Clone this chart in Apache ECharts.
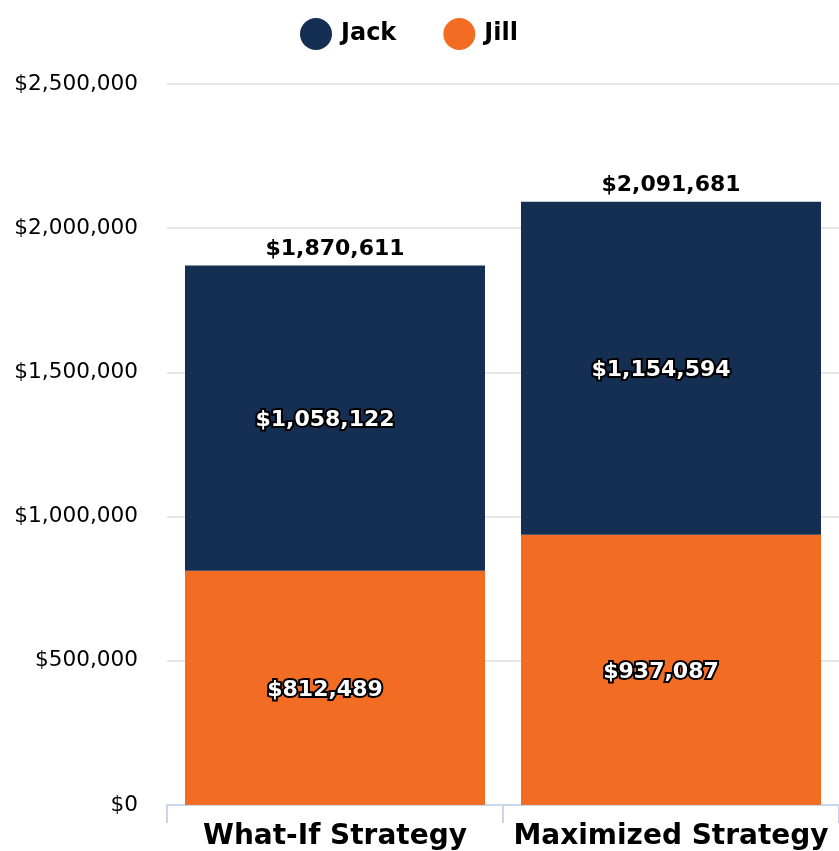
<!DOCTYPE html>
<html>
<head>
<meta charset="utf-8">
<script src="https://cdn.jsdelivr.net/npm/echarts@6/dist/echarts.min.js"></script>
<style>
  html, body { margin: 0; padding: 0; background: #fff; }
  #chart { width: 839px; height: 851px; }
</style>
</head>
<body>
<div id="chart"></div>
<script>
  const categories = ["What-If Strategy", "Maximized Strategy"];
  const jack = [1058122, 1154594];
  const jill = [812489, 937087];
  const yTicks = { min: 0, max: 2500000, interval: 500000 };

  const totals = jack.map((v, i) => v + jill[i]);
  const money = v => "$" + Number(v).toLocaleString("en-US");
  const font = "DejaVu Sans";

  const insideLabel = {
    show: true,
    position: "inside",
    offset: [-10, 2],
    formatter: p => money(p.value),
    color: "#fff",
    fontFamily: font,
    fontWeight: "bold",
    fontSize: 22,
    textBorderColor: "#000",
    textBorderWidth: 4,
  };

  const options = {
    animation: false,
    grid: { left: 167, right: 0, top: 84, bottom: 46 },
    legend: {
      data: ["Jack", "Jill"],
      top: 13,
      left: 295,
      icon: "circle",
      itemWidth: 32,
      itemHeight: 32,
      itemGap: 47,
      textStyle: {
        fontFamily: font,
        fontWeight: "bold",
        fontSize: 24,
        color: "#000",
        padding: [0, 0, 0, 4],
      },
    },
    xAxis: {
      type: "category",
      data: categories,
      axisLine: { lineStyle: { color: "#ccd6eb", width: 2 } },
      axisTick: { show: true, interval: 0, length: 18, lineStyle: { color: "#ccd6eb", width: 2 } },
      axisLabel: {
        interval: 0,
        hideOverlap: false,
        margin: 18,
        color: "#000",
        fontFamily: font,
        fontWeight: "bold",
        fontSize: 28,
      },
    },
    yAxis: {
      type: "value",
      min: yTicks.min,
      max: yTicks.max,
      interval: yTicks.interval,
      axisLabel: {
        margin: 29,
        color: "#000",
        fontFamily: font,
        fontSize: 21.6,
        formatter: v => money(v),
      },
      splitLine: { lineStyle: { color: "#e6e6e6", width: 2 } },
    },
    series: [
      {
        name: "Jill",
        type: "bar",
        stack: "total",
        data: jill,
        barWidth: 300,
        itemStyle: { color: "#f36c23" },
        label: insideLabel,
      },
      {
        name: "Jack",
        type: "bar",
        stack: "total",
        data: jack,
        barWidth: 300,
        itemStyle: { color: "#142f52" },
        label: insideLabel,
      },
      {
        name: "Total",
        type: "bar",
        data: totals,
        barWidth: 300,
        barGap: "-100%",
        z: 0,
        silent: true,
        itemStyle: { color: "rgba(0,0,0,0)" },
        label: {
          show: true,
          position: "top",
          distance: 5,
          formatter: p => money(p.value),
          color: "#000",
          fontFamily: font,
          fontWeight: "bold",
          fontSize: 22,
        },
      },
    ],
  };

  const myChart = echarts.init(document.getElementById("chart"));
  myChart.setOption(options);
  window.addEventListener("resize", () => myChart.resize(), false);
</script>
</body>
</html>
